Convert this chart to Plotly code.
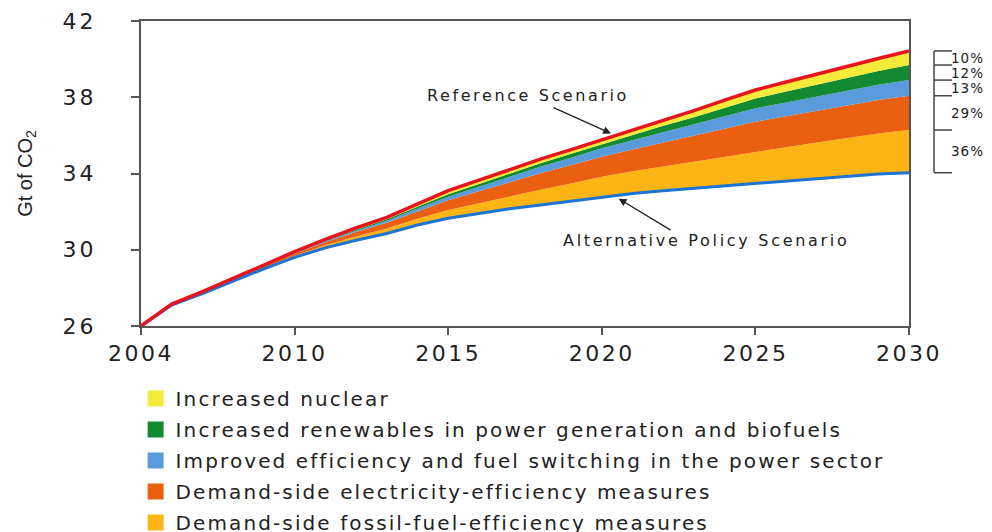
import plotly.graph_objects as go
import numpy as np

# ---------------- data ----------------
years = list(range(2005, 2031))          # plotting positions (first point is labelled 2004 in the original)
tick_vals = [2005, 2010, 2015, 2020, 2025, 2030]
tick_text = ["2004", "2010", "2015", "2020", "2025", "2030"]
y_ticks = [26, 30, 34, 38, 42]

reference = [26.0, 27.15, 27.8, 28.5, 29.2, 29.9, 30.55, 31.15, 31.7, 32.4, 33.1, 33.65, 34.2,
             34.75, 35.25, 35.76, 36.3, 36.8, 37.3, 37.85, 38.38, 38.8, 39.22, 39.63, 40.03, 40.43]
alternative = [26.0, 27.1, 27.7, 28.35, 29.0, 29.6, 30.1, 30.5, 30.85, 31.3, 31.65, 31.9, 32.15,
               32.35, 32.55, 32.78, 32.95, 33.1, 33.22, 33.35, 33.48, 33.6, 33.72, 33.85, 33.98, 34.04]

fossil = [0, .02, .03, .05, .06, .09, .14, .20, .26, .33, .43, .54, .66, .80, .93, 1.05, 1.17, 1.28,
          1.40, 1.53, 1.66, 1.78, 1.90, 2.01, 2.12, 2.24]
elec = [0, .02, .04, .05, .07, .11, .16, .23, .30, .39, .52, .63, .74, .86, .96, 1.05, 1.14, 1.25,
        1.35, 1.47, 1.58, 1.62, 1.67, 1.71, 1.75, 1.80]
power = [0, .01, .01, .02, .03, .04, .06, .08, .11, .14, .18, .23, .28, .34, .39, .44, .49, .54,
         .59, .65, .70, .73, .75, .78, .80, .82]
renew = [0, 0, .01, .01, .02, .03, .04, .06, .08, .10, .13, .15, .17, .19, .20, .21, .27, .33,
         .39, .45, .52, .57, .63, .68, .73, .79]
nuclear = [0, 0, .01, .02, .02, .03, .05, .08, .10, .14, .19, .20, .20, .21, .22, .23, .28, .30,
           .35, .40, .44, .50, .55, .60, .65, .74]

wedge_names = ["Demand-side fossil-fuel-efficiency measures",
               "Demand-side electricity-efficiency measures",
               "Improved efficiency and fuel switching in the power sector",
               "Increased renewables in power generation and biofuels",
               "Increased nuclear"]
wedge_values = [fossil, elec, power, renew, nuclear]
wedge_colors = ["#FDB515", "#EA6010", "#5A9BDC", "#128A32", "#F3EA3A"]
pct_labels = ["36%", "29%", "13%", "12%", "10%"]


def spaced(s, px):
    return f"<span style='letter-spacing:{px}px'>{s}</span>"


# ---------------- figure ----------------
fig = go.Figure()
font_main = "DejaVu Sans"
text_col = "#222222"

base = np.array(alternative, dtype=float)
fig.add_trace(go.Scatter(x=years, y=base, mode="lines", line=dict(width=0, color="rgba(0,0,0,0)"),
                         showlegend=False, hoverinfo="skip"))
cum = base.copy()
bounds = [cum[-1]]
for name, vals, col in zip(wedge_names, wedge_values, wedge_colors):
    cum = cum + np.array(vals)
    bounds.append(cum[-1])
    fig.add_trace(go.Scatter(x=years, y=cum.copy(), mode="lines", fill="tonexty", fillcolor=col,
                             line=dict(width=0, color=col), showlegend=False, name=name))

fig.add_trace(go.Scatter(x=years, y=alternative, mode="lines", line=dict(color="#1C74D4", width=3),
                         showlegend=False, name="Alternative Policy Scenario"))
fig.add_trace(go.Scatter(x=years, y=reference, mode="lines", line=dict(color="#E8141C", width=3.5),
                         showlegend=False, name="Reference Scenario"))

# legend entries (top to bottom as in original)
for i, (name, col) in enumerate(reversed(list(zip(wedge_names, wedge_colors)))):
    fig.add_trace(go.Scatter(x=[None], y=[None], mode="markers", name=spaced(name, 2.1),
                             legendgroup=f"g{i}", marker=dict(symbol="square", size=17, color=col)))

# bracket on the right
bx0, bx1 = 1.0326, 1.056
fig.add_shape(type="line", xref="paper", yref="y", x0=bx0, x1=bx0, y0=bounds[0], y1=bounds[-1],
              line=dict(color="#444444", width=1.5))
for b in bounds:
    fig.add_shape(type="line", xref="paper", yref="y", x0=bx0, x1=bx1, y0=b, y1=b,
                  line=dict(color="#444444", width=1.5))
for i, lab in enumerate(pct_labels):
    mid = (bounds[i] + bounds[i + 1]) / 2
    fig.add_annotation(xref="paper", yref="y", x=bx1 - 0.002, y=mid, text=spaced(lab, 1),
                       showarrow=False, xanchor="left", yanchor="middle", borderpad=0,
                       font=dict(family=font_main, size=13.5, color=text_col))

# scenario labels and arrows
fig.add_annotation(x=2017.6, y=38.07, text=spaced("Reference Scenario", 2.6), showarrow=False,
                   font=dict(family=font_main, size=16, color=text_col))
fig.add_annotation(x=2020.3, y=36.1, ax=2018.38, ay=37.49, axref="x", ayref="y", text="",
                   showarrow=True, arrowhead=2, arrowsize=1.2, arrowwidth=1.3, arrowcolor="#222222")
fig.add_annotation(x=2023.39, y=30.51, text=spaced("Alternative Policy Scenario", 2.7), showarrow=False,
                   font=dict(family=font_main, size=16, color=text_col))
fig.add_annotation(x=2020.55, y=32.68, ax=2022.29, ay=30.98, axref="x", ayref="y", text="",
                   showarrow=True, arrowhead=2, arrowsize=1.2, arrowwidth=1.3, arrowcolor="#222222")

fig.update_layout(
    width=984, height=524,
    margin=dict(l=133, r=83, t=13, b=206, autoexpand=False),
    paper_bgcolor="white", plot_bgcolor="white",
    font=dict(family=font_main, color=text_col),
    legend=dict(x=-0.007, y=-0.174, xanchor="left", yanchor="top", orientation="v",
                traceorder="grouped", tracegroupgap=2,
                font=dict(family=font_main, size=20, color=text_col), bgcolor="rgba(0,0,0,0)"),
    xaxis=dict(range=[2005, 2030], tickvals=tick_vals, ticktext=[spaced(t, 2.5) for t in tick_text],
               showgrid=False, zeroline=False, showline=True, linecolor="#555555", linewidth=2,
               mirror=True, ticks="outside", ticklen=7, tickcolor="#555555", tickwidth=1.5,
               tickfont=dict(family=font_main, size=22, color=text_col)),
    yaxis=dict(range=[26, 42], tickvals=y_ticks, ticktext=[spaced(str(t), 3) for t in y_ticks],
               showgrid=False, zeroline=False,
               showline=True, linecolor="#555555", linewidth=2, mirror=True,
               ticks="outside", ticklen=8, tickcolor="#555555", tickwidth=1.5, ticklabelstandoff=30,
               tickfont=dict(family=font_main, size=22, color=text_col),
               title=dict(text="Gt of CO<sub>2</sub>", standoff=25,
                          font=dict(family="Liberation Sans", size=20, color=text_col))),
)

fig.write_html("out.html")
